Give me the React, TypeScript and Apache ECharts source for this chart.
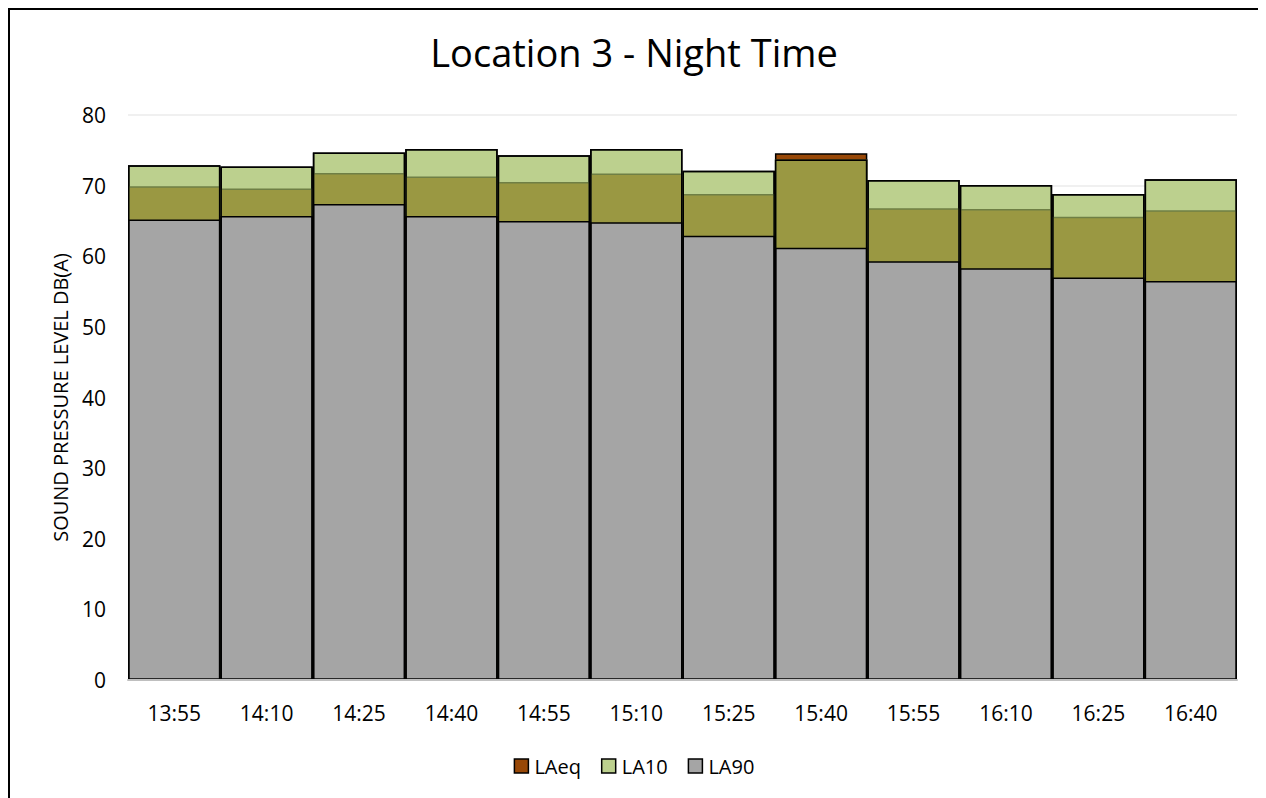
import React, { useEffect, useRef } from "react";
import * as echarts from "echarts";

const categories = ["13:55", "14:10", "14:25", "14:40", "14:55", "15:10", "15:25", "15:40", "15:55", "16:10", "16:25", "16:40"];
const la10 = [72.9, 72.7, 74.7, 75.2, 74.3, 75.2, 72.1, 73.7, 70.8, 70.1, 68.8, 70.9];
const laeq = [69.9, 69.6, 71.8, 71.3, 70.5, 71.7, 68.8, 74.6, 66.8, 66.7, 65.6, 66.5];
const la90 = [65.2, 65.7, 67.4, 65.7, 65.0, 64.8, 62.9, 61.2, 59.3, 58.3, 57.0, 56.5];
const yTicks = [0, 10, 20, 30, 40, 50, 60, 70, 80];

const FONT = "'Open Sans', sans-serif";

export default function App() {
  const ref = useRef<HTMLDivElement>(null);
  useEffect(() => {
    if (!ref.current) return;
    const chart = echarts.init(ref.current, undefined, { renderer: "svg" });
    const overlap = laeq.map((v, i) => Math.min(v, la10[i]));
    const common = {
      type: "bar",
      barGap: "-100%",
      barCategoryGap: "0%",
    };
    chart.setOption({
      animation: false,
      title: {
        text: "Location 3 - Night Time",
        left: "center",
        top: 18,
        textStyle: { fontFamily: FONT, fontSize: 38, fontWeight: "normal", color: "#000" },
      },
      legend: {
        data: ["LAeq", "LA10", "LA90"],
        left: "center",
        top: 741,
        icon: "rect",
        itemWidth: 14,
        itemHeight: 14,
        itemGap: 20,
        itemStyle: { borderColor: "#000", borderWidth: 1.5 },
        textStyle: { fontFamily: FONT, fontSize: 20, color: "#000", padding: [0, 0, 0, 1] },
      },
      grid: { left: 118, right: 21, top: 105, bottom: 120, containLabel: false },
      xAxis: {
        type: "category",
        data: categories,
        z: 10,
        axisLine: { lineStyle: { color: "#bfbfbf", width: 2 } },
        axisTick: { show: false },
        axisLabel: { fontFamily: FONT, fontSize: 21, color: "#000", margin: 22 },
      },
      yAxis: {
        type: "value",
        min: yTicks[0],
        max: yTicks[yTicks.length - 1],
        interval: 10,
        name: "SOUND PRESSURE LEVEL DB(A)",
        nameLocation: "middle",
        nameGap: 58,
        nameTextStyle: { fontFamily: FONT, fontSize: 20, color: "#000" },
        axisLine: { show: false },
        axisTick: { show: false },
        axisLabel: { fontFamily: FONT, fontSize: 21, color: "#000", margin: 22 },
        splitLine: { lineStyle: { color: "#f0f0f0", width: 2 } },
      },
      series: [
        { ...common, name: "LAeq", data: laeq, itemStyle: { color: "#984807", borderColor: "#000", borderWidth: 1.5 } },
        { ...common, name: "LA10", data: la10, itemStyle: { color: "#bcd08e", borderColor: "#000", borderWidth: 1.5 } },
        { ...common, name: "overlap", data: overlap, silent: true, itemStyle: { color: "#9a9842", borderColor: "#6f7f45", borderWidth: 1.5 } },
        { ...common, name: "LA90", data: la90, itemStyle: { color: "#a5a5a5", borderColor: "#000", borderWidth: 1.5 } },
        { ...common, name: "outline", data: la10, silent: true, itemStyle: { color: "rgba(0,0,0,0)", borderColor: "#000", borderWidth: 1.5 } },
      ],
    });
    return () => chart.dispose();
  }, []);
  return (
    <div style={{ width: 1252, border: "2px solid #000", boxSizing: "border-box", background: "#fff" }}>
      <div ref={ref} style={{ width: 1248, height: 790 }} />
    </div>
  );
}
